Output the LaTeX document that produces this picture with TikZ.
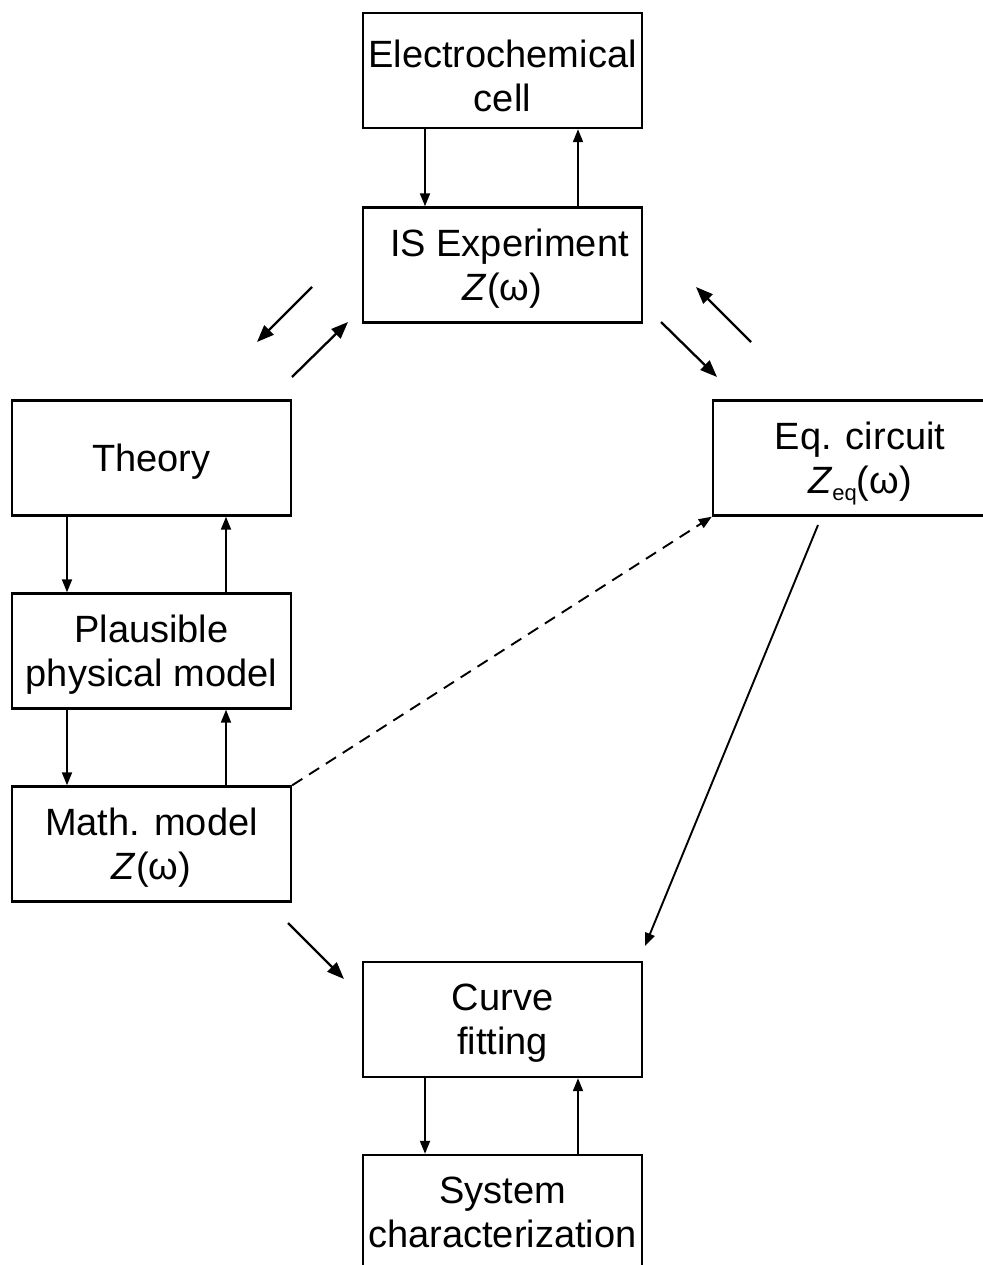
\documentclass[tikz,border=0pt]{standalone}
\usepackage{fontspec}
\setmainfont{Liberation Sans}
\usetikzlibrary{arrows.meta}
\tikzset{box/.style={draw,line width=2.4pt,minimum width=279pt,minimum height=115pt,
    align=center,inner sep=0pt,text depth=0pt,font=\fontsize{38}{44}\selectfont},
  arr/.style={line width=1.9pt,-{Triangle[length=13pt,width=10pt]}},
  bigarr/.style={line width=2.3pt,-{Triangle[length=17pt,width=13pt]}}}

\begin{document}
\begin{tikzpicture}[x=1pt,y=-1pt]
        \useasboundingbox (0,0) rectangle (982,1265);
        \node[box] (cell) at (502.5,70.5) {\rule{0pt}{39pt}Electrochemical\\cell};
        \node[box] (exp) at (502.5,265) {\hspace*{14pt}IS Experiment\\\textit{Z}(ω)};
        \node[box] (theory) at (151.5,458) {Theory};
        \node[box,minimum width=294pt] (eqc) at (860,458) {Eq. circuit\\\textit{Z}\raisebox{-0.35ex}{\fontsize{22}{22}\selectfont eq}(ω)};
        \node[box] (phys) at (151.5,651) {Plausible\\physical model};
        \node[box] (math) at (151.5,844) {Math. model\\\textit{Z}(ω)};
        \node[box] (fit) at (502.5,1019.5) {Curve\\fitting};
        \node[box] (sys) at (502.5,1212.5) {System\\characterization};
        \draw[arr] ([xshift=-77.5pt]cell.south) -- ([xshift=-77.5pt]exp.north);
        \draw[arr] ([xshift=75.5pt]exp.north) -- ([xshift=75.5pt]cell.south);
        \draw[arr] ([xshift=-84.5pt]theory.south) -- ([xshift=-84.5pt]phys.north);
        \draw[arr] ([xshift=74.5pt]phys.north) -- ([xshift=74.5pt]theory.south);
        \draw[arr] ([xshift=-84.5pt]phys.south) -- ([xshift=-84.5pt]math.north);
        \draw[arr] ([xshift=74.5pt]math.north) -- ([xshift=74.5pt]phys.south);
        \draw[arr] ([xshift=-77.5pt]fit.south) -- ([xshift=-77.5pt]sys.north);
        \draw[arr] ([xshift=75.5pt]sys.north) -- ([xshift=75.5pt]fit.south);
        \coordinate (a1) at (312,287); \coordinate (b1) at (257,342);
        \coordinate (a2) at (292,377); \coordinate (b2) at (348,322);
        \coordinate (a3) at (661,322); \coordinate (b3) at (717,377);
        \coordinate (a4) at (751,342); \coordinate (b4) at (696,287);
        \coordinate (a5) at (288,923); \coordinate (b5) at (344,979);
        \coordinate (a6) at (818,525); \coordinate (b6) at (645,946);
        \draw[bigarr] (a1) -- (b1);
        \draw[bigarr] (a2) -- (b2);
        \draw[bigarr] (a3) -- (b3);
        \draw[bigarr] (a4) -- (b4);
        \draw[bigarr] (a5) -- (b5);
        \draw[arr] (a6) -- (b6);
        \draw[arr,dashed,dash pattern=on 12pt off 8pt] (math.north east) -- (eqc.south west);
      \end{tikzpicture}
\end{document}
